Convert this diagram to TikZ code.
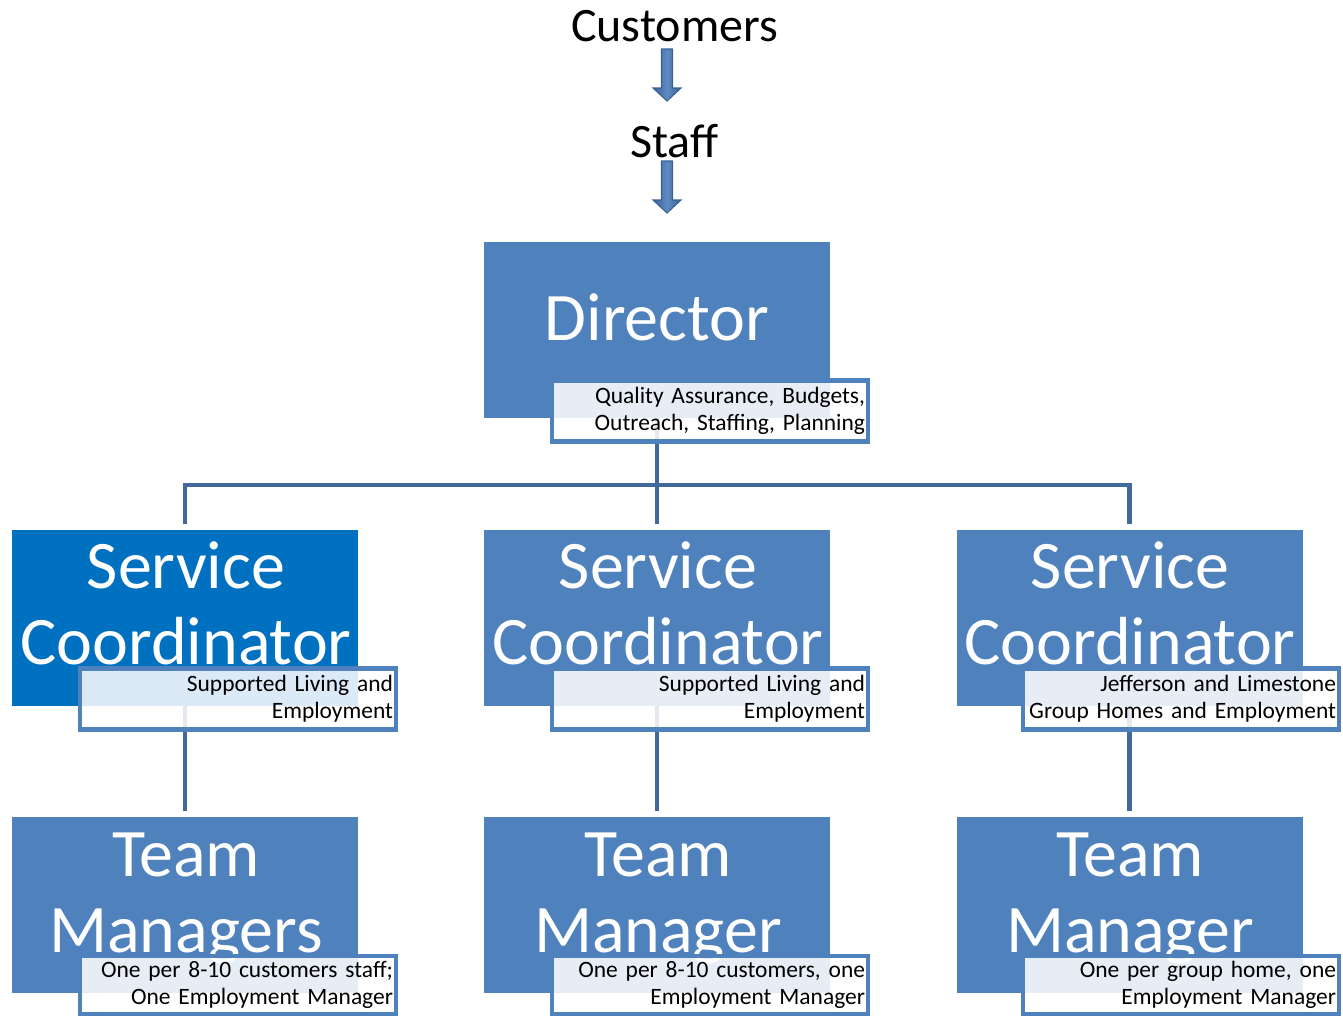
\documentclass[tikz,border=0pt]{standalone}
\usepackage{fontspec}
\setmainfont{Carlito}
\usetikzlibrary{backgrounds}
\definecolor{boxblue}{HTML}{4F81BD}
\definecolor{scblue}{HTML}{0070C0}
\definecolor{linkblue}{HTML}{41699B}
\definecolor{arrdark}{HTML}{3A6194}
\definecolor{arrlight}{HTML}{5F8AC2}
\begin{document}
\begin{tikzpicture}[x=0.75pt,y=-0.75pt,
  bigbox/.style={rectangle, fill=boxblue, draw=none, minimum width=259.5pt, minimum height=132pt, inner sep=0pt},
  title/.style={text=white, font=\fontsize{51}{57}\selectfont, align=center, inner sep=0pt},
  subbox/.style={rectangle, draw=boxblue, line width=3.4pt, fill=white, fill opacity=0.86, text opacity=1, text=black, minimum width=237pt, minimum height=45.75pt, text width=232.5pt, inner xsep=2.25pt, inner ysep=0pt, align=right, font=\fontsize{17.6}{19.9}\selectfont},
  link/.style={draw=linkblue, line width=3.4pt},
  plain/.style={font=\fontsize{36}{40}\selectfont, inner sep=0pt},
  blockarrow/.style={draw=arrdark, line width=0.8pt, left color=arrdark, right color=arrdark, middle color=arrlight}
]
\useasboundingbox (0,0) rectangle (1343,1017);

% top texts and arrows
\node[plain, anchor=base] (cust) at (674.5,41) {Customers};
\node[plain, anchor=base] (staff) at (674.5,157) {Staff};
\coordinate (a1) at (667,49);
\coordinate (a2) at (667,161);
\path[blockarrow] (a1) ++(-5.5,0) -- ++(11,0) -- ++(0,39) -- ++(8.5,0) -- ++(-14,13) -- ++(-14,-13) -- ++(8.5,0) -- cycle;
\path[blockarrow] (a2) ++(-5.5,0) -- ++(11,0) -- ++(0,39) -- ++(8.5,0) -- ++(-14,13) -- ++(-14,-13) -- ++(8.5,0) -- cycle;

% boxes
\node[bigbox] (dir) at (657,330) {};
\node[bigbox, fill=scblue] (sc1) at (185,618) {};
\node[bigbox] (sc2) at (657,618) {};
\node[bigbox] (sc3) at (1129.5,618) {};
\node[bigbox] (tm1) at (185,905) {};
\node[bigbox] (tm2) at (657,905) {};
\node[bigbox] (tm3) at (1129.5,905) {};

% titles
\node[title, anchor=base] (dirT) at (657,340) {Director};
\node[title] (sc1T) at (186,603) {Service\\Coordinator};
\node[title] (sc2T) at (658,603) {Service\\Coordinator};
\node[title] (sc3T) at (1130,603) {Service\\Coordinator};
\node[title] (tm1T) at (186,899) {Team\\Managers};
\node[title] (tm2T) at (658,899) {Team\\Manager};
\node[title] (tm3T) at (1130,899) {Team\\Manager};

% sub boxes
\node[subbox] (dsub) at (710,411) {Quality Assurance, Budgets,\\Outreach, Staffing, Planning};
\node[subbox] (sc1s) at (238,699) {Supported Living and\\Employment};
\node[subbox] (sc2s) at (710,699) {Supported Living and\\Employment};
\node[subbox] (sc3s) at (1181,699) {Jefferson and Limestone\\Group Homes and Employment};
\node[subbox, minimum height=43.5pt] (tm1s) at (238,985) {One per 8-10 customers staff;\\One Employment Manager};
\node[subbox, minimum height=43.5pt] (tm2s) at (710,985) {One per 8-10 customers, one\\Employment Manager};
\node[subbox, minimum height=43.5pt] (tm3s) at (1181,985) {One per group home, one\\Employment Manager};

% connectors
\begin{scope}[on background layer]
\coordinate (bus) at (657,485);
\draw[link, shorten >=4.5pt] (dir.south) -- (sc2.north);
\draw[link, shorten <=4.5pt, shorten >=4.5pt] (sc1.north) |- (bus) -| (sc3.north);
\draw[link, shorten >=4.5pt] (sc1.south) -- (tm1.north);
\draw[link, shorten >=4.5pt] (sc2.south) -- (tm2.north);
\draw[link, shorten >=4.5pt] (sc3.south) -- (tm3.north);
\end{scope}
\end{tikzpicture}
\end{document}
